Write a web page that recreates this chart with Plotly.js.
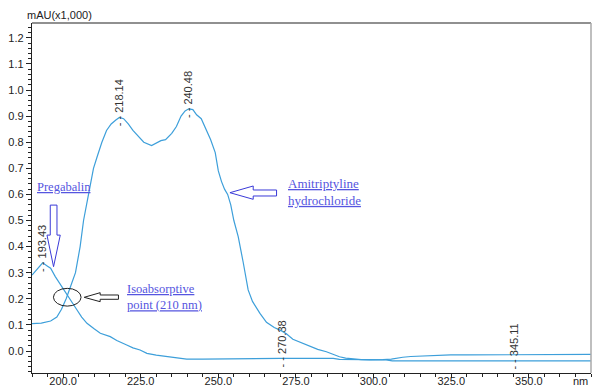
<!DOCTYPE html>
<html>
<head>
<meta charset="utf-8">
<script src="https://cdn.plot.ly/plotly-3.0.1.min.js"></script>
<style>html,body{margin:0;padding:0;background:#fff;}#chart{width:592px;height:385px;}</style>
</head>
<body>
<div id="chart"></div>
<script>
// Amitriptyline hydrochloride spectrum (nm, mAU x1000)
var amiX = [190,193,196,198,199.5,201,202.5,204,205.5,206.6,208.2,209.8,211,212.5,214,215.5,217,218.14,219.5,221,222.5,224,226,228.5,230,231.5,233,235,236.5,238,239.3,240.48,241.8,243,244.5,246,247.5,249,250,251,252,253,254,255,256.4,258,259.6,261,263.4,265.5,268,270.38,272,274,277,279.5,282,284.8,287,289,291,293.3,296,298.7,301,303,305.7,307.5,309.4,312,315.2,320,324.8,330,340,350,360,370];
var amiY = [0.105,0.107,0.115,0.13,0.16,0.2,0.25,0.3,0.4,0.5,0.6,0.7,0.745,0.8,0.845,0.87,0.885,0.895,0.89,0.87,0.845,0.825,0.8,0.787,0.795,0.806,0.81,0.834,0.86,0.9,0.92,0.928,0.925,0.905,0.89,0.85,0.81,0.76,0.69,0.65,0.62,0.6,0.56,0.5,0.438,0.34,0.234,0.19,0.144,0.11,0.09,0.077,0.065,0.045,0.03,0.017,0.006,-0.003,-0.013,-0.022,-0.027,-0.031,-0.033,-0.034,-0.034,-0.033,-0.031,-0.027,-0.024,-0.021,-0.019,-0.017,-0.015,-0.015,-0.014,-0.013,-0.013,-0.013];
// Pregabalin spectrum
var preX = [190,191.5,193.43,195,196,197.5,199.6,201.8,203,204.5,206,207.7,210,212,215.2,217.3,220.5,222.5,224.8,227,230,233.4,236,239.8,245,250,260,270,280,287,289,295,300,304,306,310,320,330,340,350,360,370];
var preY = [0.291,0.31,0.338,0.325,0.317,0.285,0.246,0.202,0.18,0.157,0.13,0.106,0.085,0.068,0.055,0.04,0.023,0.012,0.004,-0.009,-0.016,-0.022,-0.027,-0.031,-0.031,-0.030,-0.028,-0.028,-0.028,-0.028,-0.032,-0.033,-0.034,-0.034,-0.038,-0.038,-0.038,-0.038,-0.038,-0.038,-0.038,-0.038];
// Detected peaks
var peakX = [193.43, 218.14, 240.48, 270.38, 345.11];
var peakY = [0.338, 0.895, 0.928, -0.028, -0.038];
var peakLabels = ['193.43','218.14','240.48','270.38','345.11'];
var xTickVals = [200,225,250,275,300,325,350];
var xTickText = ['200.0','225.0','250.0','275.0','300.0','325.0','350.0'];
var yTickVals = [0,0.1,0.2,0.3,0.4,0.5,0.6,0.7,0.8,0.9,1.0,1.1,1.2];
var yTickText = ['0.0','0.1','0.2','0.3','0.4','0.5','0.6','0.7','0.8','0.9','1.0','1.1','1.2'];

var lineColor = '#3d9fda';
var noteBlue = '#5555e0';

var traces = [
  {x: amiX, y: amiY, mode: 'lines', line: {color: lineColor, width: 1.2}, hoverinfo: 'skip'},
  {x: preX, y: preY, mode: 'lines', line: {color: lineColor, width: 1.2}, hoverinfo: 'skip'}
];

var annotations = [];
for (var i = 0; i < peakX.length; i++) {
  annotations.push({
    x: peakX[i], y: peakY[i], xref: 'x', yref: 'y',
    text: '- - ' + peakLabels[i], textangle: -90, showarrow: false,
    xanchor: 'center', yanchor: 'bottom', yshift: -10, borderpad: 0,
    font: {family: 'Liberation Sans, Arial', size: 11, color: '#333'}
  });
}
var serif = 'Liberation Serif, Times New Roman';
annotations.push({x: 191.1, y: 0.63, xref: 'x', yref: 'y', xanchor: 'left', yanchor: 'middle', showarrow: false,
  text: '<u>Pregabalin</u>', font: {family: serif, size: 12.5, color: noteBlue}});
annotations.push({x: 219.8, y: 0.207, xref: 'x', yref: 'y', xanchor: 'left', yanchor: 'middle', align: 'left', showarrow: false,
  text: '<u>Isoabsorptive</u><br><u>point (210 nm)</u>', font: {family: serif, size: 12.5, color: noteBlue}});
annotations.push({x: 271.8, y: 0.61, xref: 'x', yref: 'y', xanchor: 'left', yanchor: 'middle', align: 'left', showarrow: false,
  text: '<u>Amitriptyline</u><br><u>hydrochloride</u>', font: {family: serif, size: 13, color: noteBlue}});
annotations.push({x: -0.013, y: 1.0, xref: 'paper', yref: 'paper', showarrow: false, text: 'mAU(x1,000)',
  xanchor: 'left', yanchor: 'bottom', font: {family: 'Liberation Sans, Arial', size: 11, color: '#222'}});
annotations.push({x: 1, y: 0, xref: 'paper', yref: 'paper', showarrow: false, text: 'nm',
  xanchor: 'right', yanchor: 'top', xshift: -1, yshift: 0, font: {family: 'Liberation Sans, Arial', size: 11, color: '#222'}});

var shapes = [
  // top and right frame
  {type: 'line', xref: 'paper', yref: 'paper', x0: 0, x1: 1, y0: 1, y1: 1, line: {color: '#222', width: 1.2}},
  {type: 'line', xref: 'paper', yref: 'paper', x0: 1, x1: 1, y0: 0, y1: 1, line: {color: '#aaa', width: 1.5}},
  // ellipse at isoabsorptive point
  {type: 'circle', xref: 'x', yref: 'y', x0: 196.9, x1: 205.8, y0: 0.172, y1: 0.240, line: {color: '#222', width: 1}},
  // blue down arrow (Pregabalin)
  {type: 'path', xref: 'x', yref: 'y', line: {color: '#3a3ad8', width: 1},
   path: 'M195.88,0.559 L198.04,0.559 L198.04,0.444 L199.10,0.444 L196.94,0.323 L194.82,0.444 L195.88,0.444 Z'},
  // black left arrow (isoabsorptive)
  {type: 'path', xref: 'x', yref: 'y', line: {color: '#222', width: 1},
   path: 'M206.81,0.2057 L211.95,0.2234 L211.95,0.2146 L217.84,0.2146 L217.84,0.1981 L211.95,0.1981 L211.95,0.1889 Z'},
  // blue left arrow (Amitriptyline)
  {type: 'path', xref: 'x', yref: 'y', line: {color: '#3a3ad8', width: 1},
   path: 'M253.74,0.6065 L261.23,0.6322 L261.23,0.6169 L268.75,0.6169 L268.75,0.5939 L261.23,0.5939 L261.23,0.5812 Z'}
];

var layout = {
  width: 592, height: 385,
  margin: {l: 32, r: 1, t: 23, b: 12},
  paper_bgcolor: '#fff', plot_bgcolor: '#fff',
  showlegend: false,
  font: {family: 'Liberation Sans, Arial', size: 11, color: '#222'},
  xaxis: {range: [190, 370], showgrid: false, zeroline: false, showline: true, linecolor: '#222', linewidth: 1.2,
    tickmode: 'array', tickvals: xTickVals, ticktext: xTickText, ticks: 'outside', ticklen: 4, tickcolor: '#222',
    ticklabelstandoff: -6,
    tickfont: {size: 11}, minor: {dtick: 5, tick0: 0, ticks: 'outside', ticklen: 3, tickcolor: '#222'}},
  yaxis: {range: [-0.0843, 1.2567], showgrid: false, zeroline: false, showline: true, linecolor: '#222', linewidth: 1.2,
    tickmode: 'array', tickvals: yTickVals, ticktext: yTickText, ticks: 'outside', ticklen: 5, tickcolor: '#222',
    tickfont: {size: 11}, minor: {dtick: 0.02, tick0: 0, ticks: 'outside', ticklen: 3, tickcolor: '#222'}},
  annotations: annotations,
  shapes: shapes
};
Plotly.newPlot('chart', traces, layout, {staticPlot: true, displayModeBar: false});
</script>
</body>
</html>
